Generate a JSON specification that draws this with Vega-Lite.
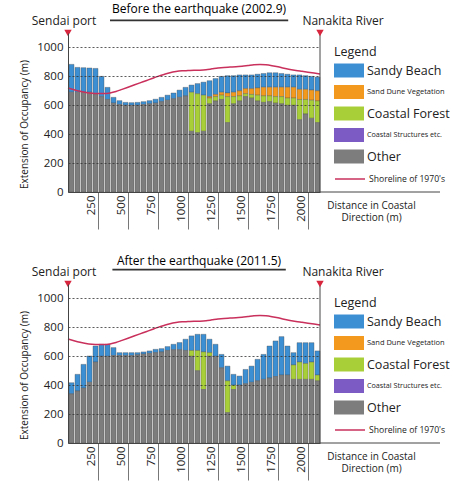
{
  "$schema": "https://vega.github.io/schema/vega-lite/v6.json",
  "padding": {"left": 19, "top": 3, "right": 0, "bottom": 0},
  "bounds": "flush",
  "spacing": 92,
  "config": {
    "view": {"stroke": null},
    "font": "Open Sans",
    "axisY": {"labelOverlap": false, "tickCount": 6},
    "axisX": {"labelOverlap": false}
  },
  "resolve": {
    "scale": {"color": "independent", "stroke": "independent"},
    "legend": {"color": "independent", "stroke": "independent"}
  },
  "datasets": {
    "before": [
      {"d": 0, "beach": 193, "dune": 0, "forest": 0, "other": 690},
      {"d": 50, "beach": 172, "dune": 0, "forest": 0, "other": 690},
      {"d": 100, "beach": 170, "dune": 0, "forest": 0, "other": 690},
      {"d": 150, "beach": 168, "dune": 0, "forest": 0, "other": 690},
      {"d": 200, "beach": 175, "dune": 0, "forest": 0, "other": 680},
      {"d": 250, "beach": 140, "dune": 0, "forest": 0, "other": 660},
      {"d": 300, "beach": 84, "dune": 0, "forest": 0, "other": 640},
      {"d": 350, "beach": 40, "dune": 0, "forest": 0, "other": 615},
      {"d": 400, "beach": 27, "dune": 0, "forest": 0, "other": 605},
      {"d": 450, "beach": 20, "dune": 0, "forest": 0, "other": 600},
      {"d": 500, "beach": 18, "dune": 0, "forest": 0, "other": 600},
      {"d": 550, "beach": 20, "dune": 0, "forest": 0, "other": 600},
      {"d": 600, "beach": 20, "dune": 0, "forest": 0, "other": 605},
      {"d": 650, "beach": 22, "dune": 0, "forest": 0, "other": 610},
      {"d": 700, "beach": 27, "dune": 0, "forest": 0, "other": 615},
      {"d": 750, "beach": 30, "dune": 0, "forest": 0, "other": 625},
      {"d": 800, "beach": 35, "dune": 0, "forest": 0, "other": 635},
      {"d": 850, "beach": 40, "dune": 0, "forest": 0, "other": 645},
      {"d": 900, "beach": 50, "dune": 0, "forest": 0, "other": 655},
      {"d": 950, "beach": 59, "dune": 0, "forest": 0, "other": 665},
      {"d": 1000, "beach": 50, "dune": 0, "forest": 270, "other": 420},
      {"d": 1050, "beach": 70, "dune": 0, "forest": 270, "other": 410},
      {"d": 1100, "beach": 90, "dune": 0, "forest": 250, "other": 420},
      {"d": 1150, "beach": 110, "dune": 10, "forest": 40, "other": 610},
      {"d": 1200, "beach": 110, "dune": 15, "forest": 30, "other": 630},
      {"d": 1250, "beach": 110, "dune": 20, "forest": 30, "other": 640},
      {"d": 1300, "beach": 120, "dune": 25, "forest": 180, "other": 480},
      {"d": 1350, "beach": 115, "dune": 30, "forest": 50, "other": 610},
      {"d": 1400, "beach": 110, "dune": 35, "forest": 35, "other": 630},
      {"d": 1450, "beach": 95, "dune": 35, "forest": 20, "other": 660},
      {"d": 1500, "beach": 95, "dune": 40, "forest": 25, "other": 650},
      {"d": 1550, "beach": 95, "dune": 50, "forest": 40, "other": 630},
      {"d": 1600, "beach": 95, "dune": 60, "forest": 45, "other": 620},
      {"d": 1650, "beach": 100, "dune": 60, "forest": 40, "other": 625},
      {"d": 1700, "beach": 100, "dune": 65, "forest": 45, "other": 615},
      {"d": 1750, "beach": 95, "dune": 65, "forest": 50, "other": 610},
      {"d": 1800, "beach": 90, "dune": 75, "forest": 50, "other": 600},
      {"d": 1850, "beach": 85, "dune": 75, "forest": 50, "other": 600},
      {"d": 1900, "beach": 100, "dune": 70, "forest": 140, "other": 500},
      {"d": 1950, "beach": 95, "dune": 70, "forest": 100, "other": 540},
      {"d": 2000, "beach": 95, "dune": 70, "forest": 125, "other": 510},
      {"d": 2050, "beach": 95, "dune": 70, "forest": 150, "other": 480}
    ],
    "after": [
      {"d": 0, "beach": 77, "dune": 0, "forest": 0, "other": 340},
      {"d": 50, "beach": 115, "dune": 0, "forest": 0, "other": 360},
      {"d": 100, "beach": 164, "dune": 0, "forest": 0, "other": 380},
      {"d": 150, "beach": 182, "dune": 0, "forest": 0, "other": 420},
      {"d": 200, "beach": 111, "dune": 0, "forest": 0, "other": 560},
      {"d": 250, "beach": 83, "dune": 0, "forest": 0, "other": 600},
      {"d": 300, "beach": 83, "dune": 0, "forest": 0, "other": 600},
      {"d": 350, "beach": 55, "dune": 0, "forest": 0, "other": 605},
      {"d": 400, "beach": 20, "dune": 0, "forest": 0, "other": 605},
      {"d": 450, "beach": 20, "dune": 0, "forest": 0, "other": 605},
      {"d": 500, "beach": 20, "dune": 0, "forest": 0, "other": 605},
      {"d": 550, "beach": 15, "dune": 0, "forest": 0, "other": 610},
      {"d": 600, "beach": 15, "dune": 0, "forest": 0, "other": 615},
      {"d": 650, "beach": 17, "dune": 0, "forest": 0, "other": 620},
      {"d": 700, "beach": 23, "dune": 0, "forest": 0, "other": 625},
      {"d": 750, "beach": 23, "dune": 0, "forest": 0, "other": 630},
      {"d": 800, "beach": 27, "dune": 0, "forest": 0, "other": 640},
      {"d": 850, "beach": 38, "dune": 0, "forest": 0, "other": 645},
      {"d": 900, "beach": 50, "dune": 0, "forest": 0, "other": 645},
      {"d": 950, "beach": 78, "dune": 0, "forest": 0, "other": 640},
      {"d": 1000, "beach": 101, "dune": 0, "forest": 40, "other": 600},
      {"d": 1050, "beach": 112, "dune": 0, "forest": 140, "other": 500},
      {"d": 1100, "beach": 122, "dune": 0, "forest": 260, "other": 370},
      {"d": 1150, "beach": 93, "dune": 0, "forest": 25, "other": 600},
      {"d": 1200, "beach": 83, "dune": 0, "forest": 0, "other": 600},
      {"d": 1250, "beach": 93, "dune": 0, "forest": 0, "other": 520},
      {"d": 1300, "beach": 102, "dune": 0, "forest": 220, "other": 210},
      {"d": 1350, "beach": 75, "dune": 0, "forest": 30, "other": 370},
      {"d": 1400, "beach": 63, "dune": 0, "forest": 0, "other": 400},
      {"d": 1450, "beach": 99, "dune": 0, "forest": 0, "other": 410},
      {"d": 1500, "beach": 112, "dune": 0, "forest": 0, "other": 420},
      {"d": 1550, "beach": 149, "dune": 0, "forest": 0, "other": 430},
      {"d": 1600, "beach": 173, "dune": 0, "forest": 0, "other": 440},
      {"d": 1650, "beach": 221, "dune": 0, "forest": 0, "other": 450},
      {"d": 1700, "beach": 246, "dune": 0, "forest": 0, "other": 460},
      {"d": 1750, "beach": 266, "dune": 0, "forest": 0, "other": 470},
      {"d": 1800, "beach": 201, "dune": 0, "forest": 0, "other": 470},
      {"d": 1850, "beach": 85, "dune": 0, "forest": 100, "other": 440},
      {"d": 1900, "beach": 134, "dune": 0, "forest": 120, "other": 440},
      {"d": 1950, "beach": 144, "dune": 0, "forest": 110, "other": 440},
      {"d": 2000, "beach": 134, "dune": 0, "forest": 120, "other": 440},
      {"d": 2050, "beach": 167, "dune": 0, "forest": 40, "other": 430}
    ],
    "shore": [
      {"d": 0, "s": 720}, {"d": 50, "s": 708}, {"d": 100, "s": 697}, {"d": 150, "s": 688},
      {"d": 200, "s": 683}, {"d": 250, "s": 681}, {"d": 300, "s": 681}, {"d": 350, "s": 685},
      {"d": 400, "s": 695}, {"d": 450, "s": 710}, {"d": 500, "s": 725}, {"d": 550, "s": 740},
      {"d": 600, "s": 755}, {"d": 650, "s": 770}, {"d": 700, "s": 785}, {"d": 750, "s": 800},
      {"d": 800, "s": 813}, {"d": 850, "s": 825}, {"d": 900, "s": 833}, {"d": 950, "s": 838},
      {"d": 1000, "s": 840}, {"d": 1050, "s": 842}, {"d": 1100, "s": 843}, {"d": 1150, "s": 846},
      {"d": 1200, "s": 852}, {"d": 1250, "s": 858}, {"d": 1300, "s": 862}, {"d": 1350, "s": 864},
      {"d": 1400, "s": 866}, {"d": 1450, "s": 870}, {"d": 1500, "s": 875}, {"d": 1550, "s": 880},
      {"d": 1600, "s": 882}, {"d": 1650, "s": 880}, {"d": 1700, "s": 874}, {"d": 1750, "s": 866},
      {"d": 1800, "s": 856}, {"d": 1850, "s": 848}, {"d": 1900, "s": 841}, {"d": 1950, "s": 835},
      {"d": 2000, "s": 829}, {"d": 2050, "s": 823}, {"d": 2100, "s": 817}
    ],
    "markers": [
      {"d": 0, "name": "Sendai port"},
      {"d": 2100, "name": "Nanakita River"}
    ]
  },
  "vconcat": [
    {
      "width": 252,
      "height": 159,
      "layer": [
        {
          "data": {"name": "before"},
          "transform": [
            {"fold": ["beach", "dune", "forest", "other"], "as": ["type", "v"]},
            {"filter": "datum.v > 0"}
          ],
          "mark": {"type": "bar", "stroke": "#4d4d4d", "strokeWidth": 0.5, "strokeOpacity": 0.7},
          "encoding": {
            "x": {
              "field": "d", "type": "quantitative",
              "bin": {"step": 50, "extent": [0, 2100]},
              "scale": {"domain": [0, 2100], "nice": false},
              "axis": {
                "values": [250, 500, 750, 1000, 1250, 1500, 1750, 2000], "format": "d",
                "labelAngle": 270, "labelFontSize": 11.5, "labelColor": "#222",
                "labelPadding": -34, "labelOffset": -6.5, "labelFlush": false, "labelOverlap": false,
                "tickSize": 37, "tickColor": "#777", "tickWidth": 1,
                "domainColor": "#444", "grid": false,
                "title": ["Distance in Coastal", "Direction (m)"],
                "titleFontSize": 10, "titleFontWeight": "normal", "titleColor": "#222",
                "titleX": 303, "titleY": 8, "titleAlign": "center", "titleBaseline": "top",
                "titleAngle": 0, "titleLineHeight": 12.5, "zindex": 1
              }
            },
            "y": {
              "field": "v", "type": "quantitative", "stack": "zero",
              "scale": {"domain": [0, 1100], "nice": false},
              "axis": {
                "values": [0, 200, 400, 600, 800, 1000], "format": "d",
                "labelFontSize": 11.5, "labelColor": "#222", "labelPadding": 5, "labelOverlap": false,
                "ticks": false, "domainColor": "#444",
                "grid": true, "gridColor": "#333", "gridDash": [2, 2], "gridOpacity": 0.8,
                "title": "Extension of Occupancy (m)",
                "titleFontSize": 10, "titleFontWeight": "normal", "titleColor": "#222",
                "titlePadding": 7, "titleY": 91, "zindex": 1
              }
            },
            "color": {
              "field": "type", "type": "nominal",
              "sort": ["beach", "dune", "forest", "structures", "other"],
              "scale": {
                "domain": ["beach", "dune", "forest", "structures", "other"],
                "range": ["#3d8fd3", "#f39a1e", "#a9cf38", "#7c5cc4", "#7d7d7d"]
              },
              "legend": {
                "orient": "none", "legendX": 266, "legendY": 13,
                "title": "Legend", "titleFontSize": 12.5, "titleFontWeight": "normal",
                "titleColor": "#222", "titlePadding": 5,
                "labelExpr": "datum.value == 'beach' ? 'Sandy Beach' : datum.value == 'dune' ? 'Sand Dune Vegetation' : datum.value == 'forest' ? 'Coastal Forest' : datum.value == 'structures' ? 'Coastal Structures etc.' : 'Other'",
                "labelFontSize": {"expr": "datum.value == 'dune' ? 7.5 : datum.value == 'structures' ? 7.2 : 12.5"},
                "labelColor": "#222", "labelOffset": 19,
                "symbolType": "M-1,-1H3.2857V1H-1Z", "symbolSize": 196, "symbolStrokeWidth": 0,
                "rowPadding": 7.5, "padding": 0
              }
            }
          }
        },
        {
          "data": {"name": "shore"},
          "mark": {"type": "line", "strokeWidth": 1.5, "interpolate": "monotone"},
          "encoding": {
            "x": {"field": "d", "type": "quantitative"},
            "y": {"field": "s", "type": "quantitative"},
            "stroke": {
              "datum": "Shoreline of 1970's", "type": "nominal",
              "scale": {"range": ["#c9305c"]},
              "legend": {
                "orient": "none", "legendX": 266, "legendY": 138, "title": null,
                "labelFontSize": 8.6, "labelColor": "#222", "labelOffset": 19,
                "symbolType": "M-1,0H3.2857", "symbolSize": 196, "symbolStrokeWidth": 1.5,
                "padding": 0
              }
            }
          }
        },
        {
          "data": {"name": "markers"},
          "transform": [{"filter": "datum.d > 0"}],
          "mark": {"type": "rule", "color": "#444", "strokeWidth": 1},
          "encoding": {
            "x": {"field": "d", "type": "quantitative"},
            "y": {"datum": 0},
            "y2": {"datum": 1100}
          }
        },
        {
          "data": {"name": "markers"},
          "transform": [{"filter": "datum.d > 0"}],
          "mark": {"type": "rule", "color": "#444", "strokeWidth": 1},
          "encoding": {
            "x": {"field": "d", "type": "quantitative"},
            "x2": {"datum": 3100},
            "y": {"datum": 0}
          }
        },
        {
          "data": {"name": "markers"},
          "mark": {"type": "point", "shape": "triangle-down", "filled": true, "size": 55, "color": "#d7263d", "opacity": 1},
          "encoding": {
            "x": {"field": "d", "type": "quantitative"},
            "y": {"datum": 1100}
          }
        },
        {
          "data": {"name": "markers"},
          "transform": [{"filter": "datum.d == 0"}],
          "mark": {"type": "text", "fontSize": 12, "color": "#222", "dx": -4, "dy": -8.5, "baseline": "alphabetic", "align": "center"},
          "encoding": {
            "x": {"field": "d", "type": "quantitative"},
            "y": {"datum": 1100},
            "text": {"field": "name"}
          }
        },
        {
          "data": {"name": "markers"},
          "transform": [{"filter": "datum.d > 0"}],
          "mark": {"type": "text", "fontSize": 12, "color": "#222", "dx": 23, "dy": -8.5, "baseline": "alphabetic", "align": "center"},
          "encoding": {
            "x": {"field": "d", "type": "quantitative"},
            "y": {"datum": 1100},
            "text": {"field": "name"}
          }
        },
        {
          "data": {"values": [{"t": "Before the earthquake (2002.9)"}]},
          "mark": {"type": "text", "fontSize": 12, "color": "#000", "baseline": "alphabetic", "align": "center"},
          "encoding": {
            "x": {"datum": 1092},
            "y": {"datum": 1236},
            "text": {"field": "t"}
          }
        },
        {
          "data": {"values": [{"t": "Before the earthquake (2002.9)"}]},
          "mark": {"type": "rule", "color": "#333", "strokeWidth": 1.8},
          "encoding": {
            "x": {"datum": 350},
            "x2": {"datum": 1835},
            "y": {"datum": 1188}
          }
        }
      ]
    },
    {
      "width": 252,
      "height": 159,
      "layer": [
        {
          "data": {"name": "after"},
          "transform": [
            {"fold": ["beach", "dune", "forest", "other"], "as": ["type", "v"]},
            {"filter": "datum.v > 0"}
          ],
          "mark": {"type": "bar", "stroke": "#4d4d4d", "strokeWidth": 0.5, "strokeOpacity": 0.7},
          "encoding": {
            "x": {
              "field": "d", "type": "quantitative",
              "bin": {"step": 50, "extent": [0, 2100]},
              "scale": {"domain": [0, 2100], "nice": false},
              "axis": {
                "values": [250, 500, 750, 1000, 1250, 1500, 1750, 2000], "format": "d",
                "labelAngle": 270, "labelFontSize": 11.5, "labelColor": "#222",
                "labelPadding": -34, "labelOffset": -6.5, "labelFlush": false, "labelOverlap": false,
                "tickSize": 37, "tickColor": "#777", "tickWidth": 1,
                "domainColor": "#444", "grid": false,
                "title": ["Distance in Coastal", "Direction (m)"],
                "titleFontSize": 10, "titleFontWeight": "normal", "titleColor": "#222",
                "titleX": 303, "titleY": 8, "titleAlign": "center", "titleBaseline": "top",
                "titleAngle": 0, "titleLineHeight": 12.5, "zindex": 1
              }
            },
            "y": {
              "field": "v", "type": "quantitative", "stack": "zero",
              "scale": {"domain": [0, 1100], "nice": false},
              "axis": {
                "values": [0, 200, 400, 600, 800, 1000], "format": "d",
                "labelFontSize": 11.5, "labelColor": "#222", "labelPadding": 5, "labelOverlap": false,
                "ticks": false, "domainColor": "#444",
                "grid": true, "gridColor": "#333", "gridDash": [2, 2], "gridOpacity": 0.8,
                "title": "Extension of Occupancy (m)",
                "titleFontSize": 10, "titleFontWeight": "normal", "titleColor": "#222",
                "titlePadding": 7, "titleY": 91, "zindex": 1
              }
            },
            "color": {
              "field": "type", "type": "nominal",
              "sort": ["beach", "dune", "forest", "structures", "other"],
              "scale": {
                "domain": ["beach", "dune", "forest", "structures", "other"],
                "range": ["#3d8fd3", "#f39a1e", "#a9cf38", "#7c5cc4", "#7d7d7d"]
              },
              "legend": {
                "orient": "none", "legendX": 266, "legendY": 13,
                "title": "Legend", "titleFontSize": 12.5, "titleFontWeight": "normal",
                "titleColor": "#222", "titlePadding": 5,
                "labelExpr": "datum.value == 'beach' ? 'Sandy Beach' : datum.value == 'dune' ? 'Sand Dune Vegetation' : datum.value == 'forest' ? 'Coastal Forest' : datum.value == 'structures' ? 'Coastal Structures etc.' : 'Other'",
                "labelFontSize": {"expr": "datum.value == 'dune' ? 7.5 : datum.value == 'structures' ? 7.2 : 12.5"},
                "labelColor": "#222", "labelOffset": 19,
                "symbolType": "M-1,-1H3.2857V1H-1Z", "symbolSize": 196, "symbolStrokeWidth": 0,
                "rowPadding": 7.5, "padding": 0
              }
            }
          }
        },
        {
          "data": {"name": "shore"},
          "mark": {"type": "line", "strokeWidth": 1.5, "interpolate": "monotone"},
          "encoding": {
            "x": {"field": "d", "type": "quantitative"},
            "y": {"field": "s", "type": "quantitative"},
            "stroke": {
              "datum": "Shoreline of 1970's", "type": "nominal",
              "scale": {"range": ["#c9305c"]},
              "legend": {
                "orient": "none", "legendX": 266, "legendY": 138, "title": null,
                "labelFontSize": 8.6, "labelColor": "#222", "labelOffset": 19,
                "symbolType": "M-1,0H3.2857", "symbolSize": 196, "symbolStrokeWidth": 1.5,
                "padding": 0
              }
            }
          }
        },
        {
          "data": {"name": "markers"},
          "transform": [{"filter": "datum.d > 0"}],
          "mark": {"type": "rule", "color": "#444", "strokeWidth": 1},
          "encoding": {
            "x": {"field": "d", "type": "quantitative"},
            "y": {"datum": 0},
            "y2": {"datum": 1100}
          }
        },
        {
          "data": {"name": "markers"},
          "transform": [{"filter": "datum.d > 0"}],
          "mark": {"type": "rule", "color": "#444", "strokeWidth": 1},
          "encoding": {
            "x": {"field": "d", "type": "quantitative"},
            "x2": {"datum": 3100},
            "y": {"datum": 0}
          }
        },
        {
          "data": {"name": "markers"},
          "mark": {"type": "point", "shape": "triangle-down", "filled": true, "size": 55, "color": "#d7263d", "opacity": 1},
          "encoding": {
            "x": {"field": "d", "type": "quantitative"},
            "y": {"datum": 1100}
          }
        },
        {
          "data": {"name": "markers"},
          "transform": [{"filter": "datum.d == 0"}],
          "mark": {"type": "text", "fontSize": 12, "color": "#222", "dx": -4, "dy": -8.5, "baseline": "alphabetic", "align": "center"},
          "encoding": {
            "x": {"field": "d", "type": "quantitative"},
            "y": {"datum": 1100},
            "text": {"field": "name"}
          }
        },
        {
          "data": {"name": "markers"},
          "transform": [{"filter": "datum.d > 0"}],
          "mark": {"type": "text", "fontSize": 12, "color": "#222", "dx": 23, "dy": -8.5, "baseline": "alphabetic", "align": "center"},
          "encoding": {
            "x": {"field": "d", "type": "quantitative"},
            "y": {"datum": 1100},
            "text": {"field": "name"}
          }
        },
        {
          "data": {"values": [{"t": "After the earthquake (2011.5)"}]},
          "mark": {"type": "text", "fontSize": 12, "color": "#000", "baseline": "alphabetic", "align": "center"},
          "encoding": {
            "x": {"datum": 1092},
            "y": {"datum": 1231},
            "text": {"field": "t"}
          }
        },
        {
          "data": {"values": [{"t": "After the earthquake (2011.5)"}]},
          "mark": {"type": "rule", "color": "#333", "strokeWidth": 1.8},
          "encoding": {
            "x": {"datum": 370},
            "x2": {"datum": 1815},
            "y": {"datum": 1200}
          }
        }
      ]
    }
  ]
}
